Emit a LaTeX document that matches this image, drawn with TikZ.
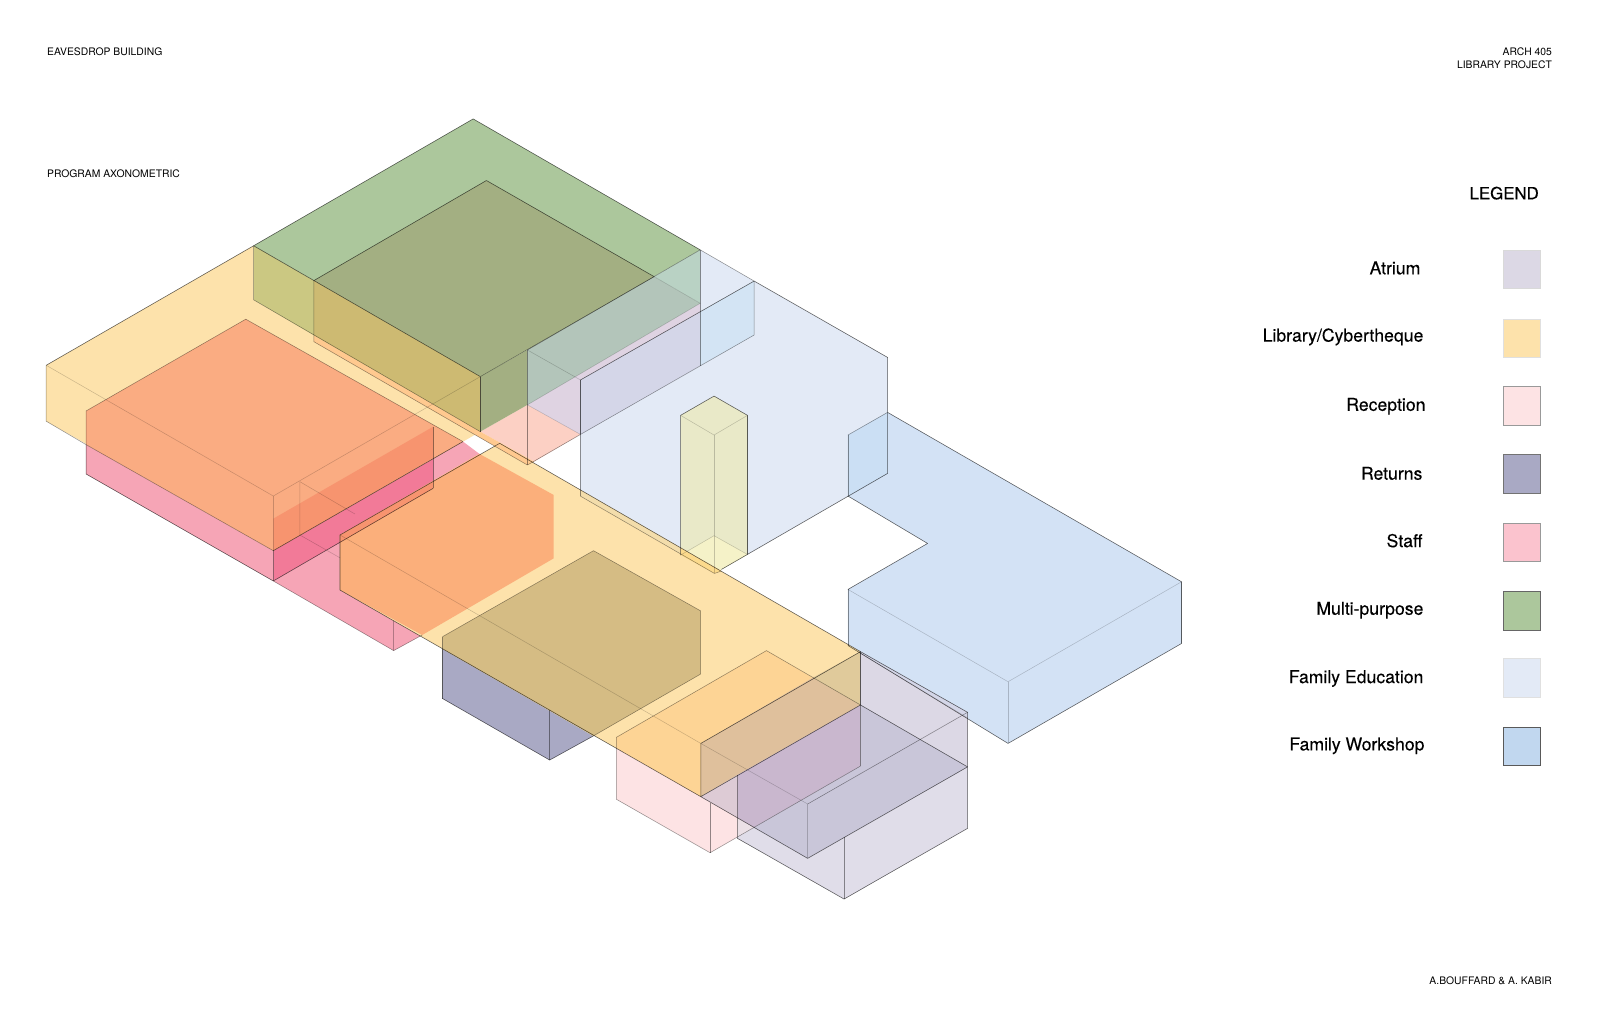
\documentclass[tikz,border=0pt]{standalone}
\usepackage{fontspec}
\setmainfont{TeX Gyre Heros}
\newfontfamily\legendfont[FakeBold=0.2]{TeX Gyre Heros}
\definecolor{libyellow}{HTML}{FDE2AB}
\definecolor{mpgreen}{HTML}{ACC79C}
\definecolor{mpdark}{HTML}{A3AF82}
\definecolor{mpolive}{HTML}{CBC882}
\definecolor{mpgold}{HTML}{CDBA72}
\definecolor{stafforange}{HTML}{FAAC82}
\definecolor{staffwall}{HTML}{F7946F}
\definecolor{staffmag}{HTML}{F27A98}
\definecolor{staffpink}{HTML}{F6A5B6}
\definecolor{staffbox}{HTML}{FBC3CE}
\definecolor{hexorange}{HTML}{FBAF7B}
\definecolor{rethex}{HTML}{D5BC84}
\definecolor{retblue}{HTML}{A9A9C4}
\definecolor{recpale}{HTML}{FDE3E4}
\definecolor{recyellow}{HTML}{FDD495}
\definecolor{tanwall}{HTML}{DFC09C}
\definecolor{tanlight}{HTML}{E0CA9B}
\definecolor{atrpale}{HTML}{E0DDE9}
\definecolor{atrmid}{HTML}{DCD8E5}
\definecolor{atrdark}{HTML}{C9C6D9}
\definecolor{atrpurple}{HTML}{C9B7CE}
\definecolor{atrrec}{HTML}{DDCBD5}
\definecolor{feblue}{HTML}{E3EAF6}
\definecolor{fwblue}{HTML}{D3E2F5}
\definecolor{fwbox}{HTML}{C1D7EF}
\definecolor{fedouble}{HTML}{CBDFF4}
\definecolor{fesoft}{HTML}{D3E4F4}
\definecolor{colyellow}{HTML}{E9E9C8}
\definecolor{colbase}{HTML}{F5F2C8}
\definecolor{colstrip}{HTML}{FCDA8C}
\definecolor{festrip}{HTML}{F3DDAB}
\definecolor{recstrip}{HTML}{FFC98F}
\definecolor{salmon}{HTML}{FCD0C4}
\definecolor{lavpink}{HTML}{DFD3E2}
\definecolor{lavblue}{HTML}{D4D6E8}
\definecolor{bluegreen}{HTML}{B3C5BA}
\definecolor{bluegreenl}{HTML}{B9D2C4}
\tikzset{
  hardline/.style={draw=black,draw opacity=0.62,line width=0.55pt,line join=round},
  softline/.style={draw=black,draw opacity=0.42,line width=0.5pt,line join=round},
  faintline/.style={draw=black,draw opacity=0.2,line width=0.5pt,line join=round},
  smalltext/.style={font=\fontsize{10.15}{12}\selectfont,inner sep=0pt},
  legendtext/.style={font=\legendfont\fontsize{17.3}{20}\selectfont,inner sep=0pt,anchor=east},
  swatch/.style={line width=0.8pt}
}
\begin{document}
\begin{tikzpicture}[x=1pt,y=-1pt]
  \useasboundingbox (0,0) rectangle (1568,1015);
  \fill[white] (0,0) rectangle (1568,1015);
  % family education and workshop
  \fill[feblue] (569,372.6) -- (739.5,275.6) -- (870.4,350.5) -- (870.4,464.2) -- (700.6,562.3) -- (569,486.4) -- cycle;
  \fill[fwblue] (831.5,426.6) -- (870.4,404.4) -- (1158.6,570.5) -- (1158.6,631) -- (988.5,729) -- (831.5,633) -- (831.5,578) -- (909.6,532.9) -- (831.5,486.4) -- cycle;
  \fill[fedouble] (831.5,426.6) -- (870.4,404.4) -- (870.4,464.2) -- (831.5,486.4) -- cycle;
  \fill[feblue] (686.6,245) -- (739.5,275.6) -- (686.6,306) -- cycle;
  \fill[fesoft] (686.6,306) -- (739.5,275.6) -- (739.5,328.5) -- (686.6,358.5) -- cycle;
  % column
  \fill[colyellow] (700.2,388.4) -- (733,407.3) -- (733,543.7) -- (700.6,562.3) -- (667.4,544.3) -- (667.4,407.3) -- cycle;
  \fill[colbase] (667.4,544.3) -- (700.2,525.3) -- (733,543.7) -- (700.6,562.3) -- cycle;
  % staff
  \fill[staffpink] (268,569.7) -- (386,638) -- (414,622.7) -- (333.4,578.6) -- (333.4,524.6) -- (470,445) -- (454,433) -- (424.8,449) -- (424.8,478.8) -- cycle;
  \fill[staffpink] (84.4,436) -- (268,540) -- (268,569.7) -- (84.4,464.8) -- cycle;
  \fill[staffmag] (268,540) -- (424.8,449) -- (424.8,478.8) -- (268,569.7) -- cycle;
  % library
  \fill[libyellow] (45.3,358.2) -- (248.7,241) -- (248.7,294) -- (471,423.3) -- (268,540) -- (45.3,413) -- cycle;
  \fill[stafforange] (241,313) -- (84.4,403) -- (84.4,436) -- (268,540) -- (454,433) -- cycle;
  \fill[staffwall] (268,508.6) -- (424.8,418.4) -- (424.8,449) -- (268,540) -- cycle;
  \fill[libyellow] (490,434.7) -- (843.8,639) -- (843.8,691.3) -- (687.2,781.2) -- (333.4,578.6) -- (333.4,524.6) -- cycle;
  \fill[hexorange] (333.4,524.6) -- (470,445) -- (543,485.4) -- (543,547.5) -- (414,622.7) -- (333.4,578.6) -- cycle;
  \fill[staffwall] (333.4,524.6) -- (424.8,472.5) -- (424.8,478.8) -- (333.4,532) -- cycle;
  % returns
  \fill[retblue] (434,636.5) -- (434,685) -- (539,745.3) -- (581.8,721.7) -- cycle;
  \fill[rethex] (434,624.3) -- (582,540) -- (687,599) -- (687,661) -- (581.8,721.7) -- (434,636.5) -- cycle;
  % reception
  \fill[recpale] (604.5,733.7) -- (687.2,781.2) -- (843.8,691.3) -- (843.8,751.2) -- (696.3,836.2) -- (604.5,783.8) -- cycle;
  \fill[recyellow] (604.5,723) -- (751.6,638) -- (797,664.5) -- (687.2,729) -- (687.2,781.2) -- (604.5,733.7) -- cycle;
  \fill[tanwall] (687.2,729) -- (797,664.5) -- (843.8,691.3) -- (687.2,781.2) -- cycle;
  \fill[tanlight] (797,664.5) -- (843.8,639) -- (843.8,691.3) -- cycle;
  % atrium
  \fill[atrmid] (843.8,639) -- (948.8,698.5) -- (948.8,752) -- (843.8,691.3) -- cycle;
  \fill[lavblue] (843.8,639) -- (948.8,698.5) -- (948.8,704) -- (843.8,640.6) -- cycle;
  \fill[atrpale] (723,820.8) -- (739.4,811.3) -- (792,841.7) -- (948.8,752) -- (948.8,812.3) -- (827.7,881.6) -- (723,822) -- cycle;
  \fill[atrrec] (687.2,781.2) -- (723,760) -- (723,801.8) -- cycle;
  \fill[atrrec!60!white] (723,801.8) -- (739.4,811.3) -- (723,820.8) -- cycle;
  \fill[atrpurple] (723,760) -- (843.8,691.3) -- (843.8,751.2) -- (739.4,811.3) -- (723,801.8) -- cycle;
  \fill[atrdark] (843.8,691.3) -- (948.8,752) -- (792,841.7) -- (739.4,811.3) -- (843.8,751.2) -- cycle;
  % reception behind the multi-purpose room
  \fill[salmon] (471,423.3) -- (517.2,397) -- (569.2,426) -- (523.8,452.7) -- cycle;
  \fill[lavpink] (517.2,397) -- (686.6,297.4) -- (686.6,306) -- (569.2,372.6) -- (569.2,426) -- cycle;
  \fill[lavblue] (569.2,372.6) -- (686.6,306) -- (686.6,358.5) -- (569.2,426) -- cycle;
  \fill[recstrip] (307.7,328.7) -- (307.7,335) -- (517.2,456) -- (523.8,452.7) -- (471,423.3) -- cycle;
  % strips over the library
  \fill[festrip] (569,480.3) -- (569,486.4) -- (700.6,562.3) -- (707.4,559.9) -- cycle;
  \fill[colstrip] (667.4,537.5) -- (667.4,544.3) -- (700.6,562.3) -- (707.4,559.9) -- cycle;
  % multi-purpose
  \fill[mpgreen] (464,116.6) -- (248.7,241) -- (471,369.3) -- (686.6,245) -- cycle;
  \fill[mpdark] (477,177) -- (307.7,275.2) -- (471,369.3) -- (641.5,271.3) -- cycle;
  \fill[mpdark] (471,369.3) -- (517.2,343.2) -- (517.2,397) -- (471,423.3) -- cycle;
  \fill[mpolive] (248.7,241) -- (307.7,275.2) -- (307.7,328.7) -- (248.7,294) -- cycle;
  \fill[mpgold] (307.7,275.2) -- (471,369.3) -- (471,423.3) -- (307.7,328.7) -- cycle;
  \fill[bluegreen] (517.2,343.2) -- (641.5,271.3) -- (686.6,297.4) -- (517.2,397) -- cycle;
  \fill[bluegreenl] (641.5,271.3) -- (686.6,245) -- (686.6,297.4) -- cycle;
  % hard outlines
  \draw[hardline] (248.7,241) -- (464,116.6) -- (686.6,245);
  \draw[hardline] (248.7,241) -- (471,369.3);
  \draw[hardline] (307.7,275.2) -- (477,177) -- (641.5,271.3);
  \draw[hardline] (471,369.3) -- (471,423.3);
  \draw[hardline] (333.4,578.6) -- (333.4,524.6) -- (490,434.7) -- (843.8,639);
  \draw[hardline] (333.4,578.6) -- (687.2,781.2) -- (843.8,691.3) -- (843.8,639) -- (687.2,729) -- (687.2,781.2);
  \draw[hardline] (569.2,372.6) -- (739.5,275.6) -- (870.4,350.5);
  \draw[hardline] (870.4,404.4) -- (1158.6,570.5) -- (1158.6,631) -- (988.5,729) -- (831.5,633);
  \draw[hardline] (831.5,486.4) -- (909.6,532.9) -- (831.5,578);
  \draw[hardline] (870.4,404.4) -- (870.4,464.2) -- (707.4,558.4);
  \draw[hardline] (569.2,372.6) -- (569.2,426);
  \draw[hardline] (667.4,544.3) -- (667.4,407.3) -- (700.2,388.4) -- (733,407.3) -- (733,543.7);
  \draw[hardline] (248.7,241) -- (45.3,358.2);
  \draw[hardline] (268,569.7) -- (84.4,464.8) -- (84.4,436);
  \draw[hardline] (268,569.7) -- (424.8,478.8);
  \draw[hardline] (268,569.7) -- (268,540) -- (454,433);
  \draw[hardline] (687.2,781.2) -- (792,841.7) -- (948.8,752) -- (843.8,691.3);
  \draw[hardline] (843.8,639) -- (948.8,698.5) -- (948.8,812.3) -- (827.7,881.6) -- (723,822) -- (723,760);
  \draw[hardline] (434,685) -- (539,745.3) -- (581.8,721.7);
  \draw[hardline] (434,636.5) -- (434,685);
  % soft outlines
  \draw[softline] (84.4,436) -- (84.4,403) -- (241,313) -- (454,433);
  \draw[softline] (45.3,358.2) -- (45.3,413) -- (84.4,436) -- (268,540);
  \draw[softline] (248.7,241) -- (248.7,294) -- (471,423.3);
  \draw[softline] (569.2,426) -- (569.2,486.4);
  \draw[softline] (307.7,275.2) -- (307.7,335) -- (517.2,456) -- (569.2,426) -- (739.5,328.5) -- (739.5,275.6);
  \draw[softline] (517.2,343.2) -- (517.2,456);
  \draw[softline] (471,369.3) -- (641.5,271.3);
  \draw[softline] (517.2,343.2) -- (686.6,245) -- (739.5,275.6);
  \draw[softline] (686.6,245) -- (686.6,358.5);
  \draw[softline] (569,486.4) -- (700.6,562.3) -- (707.4,559.9);
  \draw[softline] (870.4,350.5) -- (870.4,404.4);
  \draw[softline] (831.5,426.6) -- (870.4,404.4);
  \draw[softline] (831.5,426.6) -- (831.5,486.4);
  \draw[softline] (831.5,578) -- (831.5,633);
  \draw[softline] (424.8,418.4) -- (424.8,478.8);
  \draw[softline] (386,608.5) -- (386,638) -- (414,622.7);
  \draw[softline] (268,569.7) -- (386,638);
  \draw[softline] (434,624.3) -- (582,540) -- (687,599) -- (687,661) -- (581.8,721.7);
  \draw[softline] (434,624.3) -- (434,636.5);
  \draw[softline] (604.5,733.7) -- (604.5,723) -- (751.6,638) -- (843.8,691.3);
  \draw[softline] (604.5,733.7) -- (604.5,783.8) -- (696.3,836.2) -- (843.8,751.2);
  \draw[softline] (843.8,691.3) -- (843.8,751.2);
  \draw[softline] (792,788.4) -- (948.8,698.5);
  \draw[softline] (539,696) -- (539,745.3);
  \draw[softline] (696.3,787.8) -- (696.3,836.2);
  \draw[softline] (827.7,821) -- (827.7,881.6);
  % faint inner lines
  \draw[faintline] (45.3,358.2) -- (268,486.4) -- (471,369.3);
  \draw[faintline] (268,486.4) -- (268,540);
  \draw[faintline] (294,472.3) -- (294,524.6) -- (333.4,547);
  \draw[faintline] (294,472.3) -- (348,504);
  \draw[faintline] (333.4,524.6) -- (687.2,729) -- (792,788.4);
  \draw[faintline] (792,788.4) -- (792,841.7);
  \draw[faintline] (517.2,397) -- (686.6,297.4);
  \draw[faintline] (517.2,343.2) -- (569.2,372.6);
  \draw[faintline] (517.2,397) -- (569.2,426);
  \draw[faintline] (641.5,271.3) -- (686.6,297.4);
  \draw[faintline] (667.4,407.3) -- (700.2,426.6) -- (733,407.3);
  \draw[faintline] (700.2,426.6) -- (700.2,562.3);
  \draw[faintline] (667.4,544.3) -- (700.2,525.3) -- (733,543.7);
  \draw[faintline] (831.5,578) -- (988.5,668.5) -- (1158.6,570.5);
  \draw[faintline] (988.5,668.5) -- (988.5,729);
  \draw[faintline] (843.8,640.6) -- (948.8,704);
  % titles
  \node[smalltext,anchor=west] (titlebuilding) at (46,51) {EAVESDROP BUILDING};
  \node[smalltext,anchor=west] (titleprogram) at (46,170) {PROGRAM AXONOMETRIC};
  \node[smalltext,anchor=east] (titlearch) at (1522,51) {ARCH 405};
  \node[smalltext,anchor=east] (titleproject) at (1522,63) {LIBRARY PROJECT};
  \node[smalltext,anchor=east] (titleauthors) at (1522,962) {A.BOUFFARD \& A. KABIR};
  % legend
  \node[font=\legendfont\fontsize{16.5}{20}\selectfont,inner sep=0pt] (legendtitle) at (1475,189.4) {LEGEND};
  \node[legendtext] (lblatrium) at (1393,262.8) {Atrium};
  \node[legendtext] (lbllibrary) at (1396,330.4) {Library/Cybertheque};
  \node[legendtext] (lblreception) at (1398,398.4) {Reception};
  \node[legendtext] (lblreturns) at (1395,464.2) {Returns};
  \node[legendtext] (lblstaff) at (1395,530.2) {Staff};
  \node[legendtext] (lblmulti) at (1396,598.4) {Multi-purpose};
  \node[legendtext] (lbleducation) at (1396,665.4) {Family Education};
  \node[legendtext] (lblworkshop) at (1397,731.4) {Family Workshop};
  \draw[swatch,draw=black!15,fill=atrmid] (1474,246) rectangle (1511,283);
  \draw[swatch,draw=black!12,fill=libyellow] (1474,313) rectangle (1511,350);
  \draw[swatch,draw=black!40,fill=recpale] (1474,379) rectangle (1511,417);
  \draw[swatch,draw=black!55,fill=retblue] (1474,446) rectangle (1511,484);
  \draw[swatch,draw=black!40,fill=staffbox] (1474,513) rectangle (1511,551);
  \draw[swatch,draw=black!60,fill=mpgreen] (1474,580) rectangle (1511,618);
  \draw[swatch,draw=black!12,fill=feblue] (1474,646) rectangle (1511,684);
  \draw[swatch,draw=black!65,fill=fwbox] (1474,713) rectangle (1511,751);
\end{tikzpicture}
\end{document}
